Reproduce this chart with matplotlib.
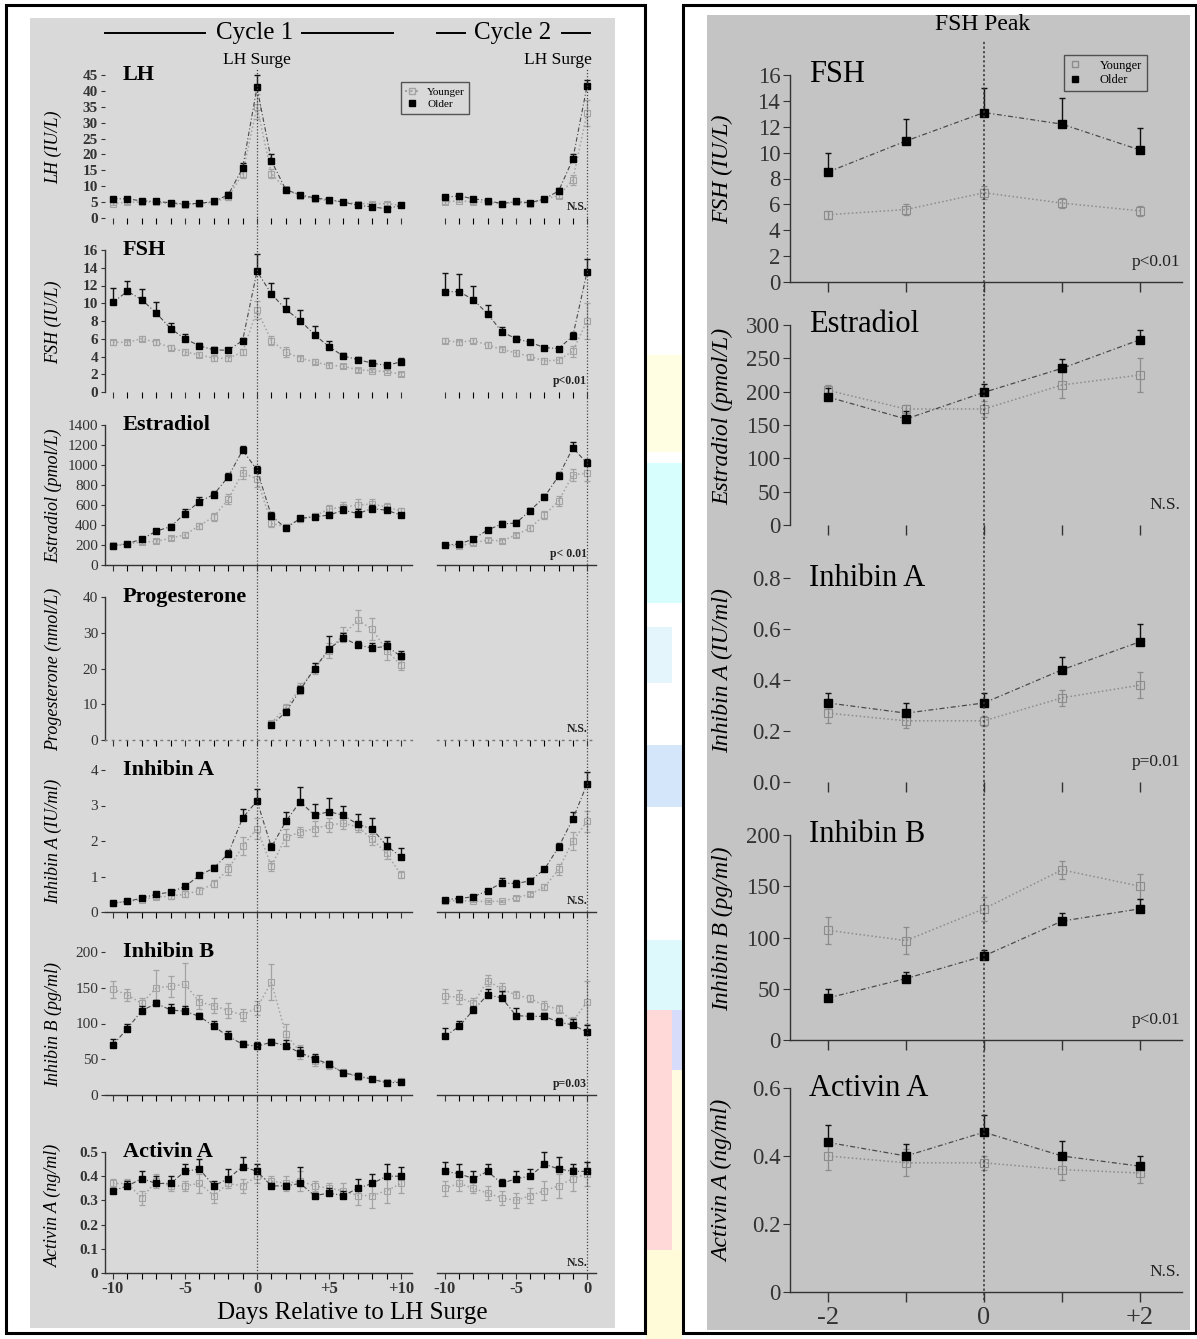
import numpy as np
import matplotlib
matplotlib.use("Agg")
import matplotlib.pyplot as plt
from matplotlib.patches import Rectangle
from matplotlib.lines import Line2D

# ---------------- data ----------------
days_c1 = [-10, -9, -8, -7, -6, -5, -4, -3, -2, -1, 0, 1, 2, 3, 4, 5, 6, 7, 8, 9, 10]
days_c2 = [-10, -9, -8, -7, -6, -5, -4, -3, -2, -1, 0]
days_prog = [1, 2, 3, 4, 5, 6, 7, 8, 9, 10]
days_peak = [-2, -1, 0, 1, 2]

lh_c1_old = [6.1, 6.0, 5.4, 5.2, 4.8, 4.4, 4.6, 5.2, 7.3, 15.7, 41.1, 18.0, 8.9, 7.3, 6.3, 5.8, 5.0, 4.0, 3.5, 2.9, 4.0]
lh_c1_old_err = [0.6, 0.6, 0.5, 0.5, 0.4, 0.4, 0.4, 0.5, 0.8, 1.5, 4.0, 2.0, 0.9, 0.7, 0.6, 0.6, 0.5, 0.5, 0.4, 0.4, 0.5]
lh_c1_young = [4.5, 5.0, 5.0, 5.0, 4.5, 4.2, 4.5, 5.0, 6.5, 14.0, 35.0, 14.0, 9.0, 7.0, 6.0, 5.5, 5.0, 4.5, 4.5, 4.5, 4.0]
lh_c1_young_err = [0.5, 0.5, 0.5, 0.5, 0.4, 0.4, 0.4, 0.4, 0.7, 1.5, 4.0, 1.5, 0.8, 0.6, 0.5, 0.5, 0.5, 0.4, 0.4, 0.4, 0.4]
lh_c2_old = [6.5, 7.0, 6.0, 5.5, 4.5, 5.2, 4.8, 6.0, 8.5, 18.5, 41.5]
lh_c2_old_err = [0.6, 0.6, 0.5, 0.5, 0.4, 0.4, 0.4, 0.5, 0.8, 1.5, 2.0]
lh_c2_young = [5.0, 5.5, 5.0, 5.0, 4.5, 5.0, 4.5, 6.0, 7.0, 12.0, 33.0]
lh_c2_young_err = [0.5, 0.5, 0.5, 0.5, 0.4, 0.4, 0.4, 0.4, 0.7, 1.5, 4.0]

fsh_c1_old = [10.1, 11.35, 10.4, 8.9, 7.15, 6.0, 5.2, 4.75, 4.7, 5.8, 13.6, 11.05, 9.3, 8.05, 6.45, 5.1, 4.05, 3.65, 3.25, 3.0, 3.4]
fsh_c1_old_err = [1.6, 1.15, 1.2, 1.2, 0.65, 0.5, 0.3, 0.3, 0.3, 0.3, 1.9, 1.25, 1.3, 1.15, 0.95, 0.6, 0.4, 0.3, 0.3, 0.3, 0.4]
fsh_c1_young = [5.6, 5.6, 6.0, 5.6, 5.0, 4.5, 4.2, 3.8, 3.8, 4.5, 9.2, 5.8, 4.5, 3.8, 3.4, 3.0, 2.9, 2.5, 2.4, 2.3, 2.0]
fsh_c1_young_err = [0.3, 0.3, 0.3, 0.3, 0.3, 0.3, 0.3, 0.3, 0.3, 0.3, 1.0, 0.5, 0.6, 0.3, 0.3, 0.3, 0.2, 0.2, 0.2, 0.2, 0.2]
fsh_c2_old = [11.3, 11.3, 10.4, 8.8, 6.8, 6.0, 5.6, 5.0, 4.9, 6.3, 13.5]
fsh_c2_old_err = [2.1, 2.0, 1.6, 1.0, 0.5, 0.3, 0.3, 0.2, 0.2, 0.5, 1.5]
fsh_c2_young = [5.8, 5.6, 5.8, 5.3, 4.8, 4.4, 4.0, 3.5, 3.6, 4.6, 8.0]
fsh_c2_young_err = [0.3, 0.3, 0.3, 0.3, 0.3, 0.3, 0.3, 0.3, 0.3, 0.6, 2.0]

e2_c1_old = [187, 213, 259, 338, 384, 515, 633, 705, 882, 1148, 951, 492, 367, 466, 482, 499, 548, 515, 564, 548, 499]
e2_c1_old_err = [15, 15, 25, 20, 25, 45, 45, 40, 40, 45, 40, 40, 20, 25, 20, 30, 40, 50, 35, 30, 25]
e2_c1_young = [200, 210, 230, 236, 269, 302, 394, 482, 656, 925, 860, 417, 380, 460, 490, 560, 580, 600, 610, 580, 540]
e2_c1_young_err = [15, 15, 20, 20, 20, 25, 30, 40, 50, 60, 80, 40, 30, 30, 30, 40, 50, 60, 50, 40, 35]
e2_c2_old = [200, 210, 260, 350, 410, 420, 545, 680, 890, 1170, 1020]
e2_c2_old_err = [10, 15, 20, 20, 35, 30, 30, 30, 40, 60, 40]
e2_c2_young = [200, 190, 220, 250, 240, 300, 370, 500, 640, 900, 920]
e2_c2_young_err = [10, 15, 20, 20, 20, 20, 30, 40, 50, 60, 80]

prog_old = [4.2, 7.8, 14.0, 20.0, 25.5, 28.5, 26.6, 25.7, 26.2, 23.4]
prog_old_err = [0.5, 0.8, 1.2, 1.5, 3.5, 1.5, 1.0, 1.5, 1.5, 1.5]
prog_young = [4.8, 9.0, 14.5, 20.0, 25.0, 29.5, 33.5, 31.0, 25.0, 21.0]
prog_young_err = [0.5, 1.0, 1.5, 1.5, 2.0, 2.0, 3.0, 3.0, 2.5, 1.5]

inha_c1_old = [0.25, 0.30, 0.39, 0.50, 0.56, 0.72, 1.03, 1.24, 1.64, 2.65, 3.13, 1.83, 2.55, 3.11, 2.72, 2.83, 2.72, 2.47, 2.34, 1.87, 1.55]
inha_c1_old_err = [0.03, 0.04, 0.05, 0.05, 0.06, 0.07, 0.08, 0.08, 0.1, 0.25, 0.34, 0.1, 0.28, 0.4, 0.33, 0.37, 0.28, 0.28, 0.3, 0.23, 0.25]
inha_c1_young = [0.25, 0.30, 0.35, 0.42, 0.45, 0.50, 0.60, 0.80, 1.20, 1.85, 2.35, 1.30, 2.10, 2.25, 2.35, 2.45, 2.50, 2.40, 2.05, 1.65, 1.05]
inha_c1_young_err = [0.03, 0.04, 0.05, 0.05, 0.08, 0.08, 0.1, 0.1, 0.15, 0.25, 0.3, 0.15, 0.25, 0.15, 0.2, 0.2, 0.15, 0.15, 0.15, 0.15, 0.1]
inha_c2_old = [0.35, 0.38, 0.43, 0.60, 0.82, 0.80, 0.88, 1.20, 1.83, 2.62, 3.60]
inha_c2_old_err = [0.03, 0.04, 0.04, 0.05, 0.13, 0.1, 0.09, 0.06, 0.12, 0.2, 0.33]
inha_c2_young = [0.30, 0.33, 0.30, 0.30, 0.30, 0.40, 0.50, 0.70, 1.20, 2.00, 2.55]
inha_c2_young_err = [0.03, 0.03, 0.03, 0.03, 0.03, 0.05, 0.05, 0.08, 0.15, 0.25, 0.3]

inhb_c1_old = [70, 93, 118, 128, 119, 117, 110, 96, 82, 71, 68, 74, 69, 59, 51, 43, 31, 27, 22, 17, 18]
inhb_c1_old_err = [8, 6, 7, 5, 8, 8, 5, 7, 7, 5, 6, 4, 8, 8, 6, 5, 4, 4, 3, 3, 3]
inhb_c1_young = [148, 140, 128, 150, 152, 155, 130, 125, 118, 112, 122, 158, 85, 60, 48, 42, 32, 25, 23, 18, 20]
inhb_c1_young_err = [12, 8, 8, 25, 15, 30, 10, 10, 10, 8, 10, 25, 15, 10, 8, 6, 5, 4, 3, 3, 4]
inhb_c2_old = [82, 96, 119, 140, 136, 111, 110, 110, 102, 98, 88]
inhb_c2_old_err = [12, 8, 6, 8, 10, 10, 5, 4, 6, 8, 10]
inhb_c2_young = [138, 137, 128, 160, 148, 140, 135, 125, 120, 103, 130]
inhb_c2_young_err = [10, 10, 8, 8, 8, 5, 5, 6, 6, 6, 30]

acta_c1_old = [0.34, 0.36, 0.39, 0.37, 0.37, 0.42, 0.43, 0.36, 0.39, 0.44, 0.42, 0.36, 0.36, 0.37, 0.32, 0.33, 0.32, 0.35, 0.37, 0.40, 0.40]
acta_c1_old_err = [0.01, 0.02, 0.03, 0.03, 0.03, 0.03, 0.04, 0.02, 0.04, 0.04, 0.03, 0.01, 0.01, 0.07, 0.01, 0.02, 0.02, 0.04, 0.04, 0.05, 0.04]
acta_c1_young = [0.37, 0.37, 0.31, 0.38, 0.36, 0.36, 0.37, 0.32, 0.37, 0.36, 0.40, 0.38, 0.37, 0.38, 0.36, 0.35, 0.34, 0.32, 0.32, 0.34, 0.37]
acta_c1_young_err = [0.02, 0.02, 0.03, 0.03, 0.02, 0.02, 0.04, 0.03, 0.02, 0.03, 0.03, 0.02, 0.03, 0.04, 0.02, 0.02, 0.03, 0.04, 0.05, 0.05, 0.04]
acta_c2_old = [0.42, 0.41, 0.39, 0.42, 0.37, 0.39, 0.40, 0.45, 0.43, 0.42, 0.42]
acta_c2_old_err = [0.04, 0.04, 0.03, 0.03, 0.02, 0.03, 0.03, 0.05, 0.05, 0.03, 0.04]
acta_c2_young = [0.35, 0.37, 0.35, 0.33, 0.31, 0.30, 0.32, 0.34, 0.36, 0.39, 0.41]
acta_c2_young_err = [0.03, 0.03, 0.02, 0.03, 0.03, 0.03, 0.03, 0.04, 0.05, 0.05, 0.05]

pk_fsh_old = [8.5, 10.9, 13.1, 12.2, 10.2]
pk_fsh_old_err = [1.5, 1.7, 1.9, 2.0, 1.7]
pk_fsh_young = [5.2, 5.6, 6.9, 6.1, 5.5]
pk_fsh_young_err = [0.3, 0.4, 0.5, 0.4, 0.4]
pk_e2_old = [192, 159, 199, 235, 278]
pk_e2_old_err = [14, 12, 12, 14, 15]
pk_e2_young = [202, 174, 174, 210, 225]
pk_e2_young_err = [8, 6, 12, 20, 25]
pk_inha_old = [0.31, 0.27, 0.31, 0.44, 0.55]
pk_inha_old_err = [0.04, 0.04, 0.04, 0.05, 0.07]
pk_inha_young = [0.27, 0.24, 0.24, 0.33, 0.38]
pk_inha_young_err = [0.04, 0.03, 0.02, 0.03, 0.05]
pk_inhb_old = [41, 60, 82, 116, 128]
pk_inhb_old_err = [9, 6, 6, 8, 10]
pk_inhb_young = [107, 97, 128, 166, 150]
pk_inhb_young_err = [13, 13, 12, 9, 12]
pk_acta_old = [0.44, 0.40, 0.47, 0.40, 0.37]
pk_acta_old_err = [0.05, 0.035, 0.05, 0.045, 0.03]
pk_acta_young = [0.40, 0.38, 0.38, 0.36, 0.35]
pk_acta_young_err = [0.04, 0.04, 0.02, 0.03, 0.03]

# ---------------- figure ----------------
W, H = 1197, 1339
plt.rcParams['font.family'] = ['Liberation Serif', 'DejaVu Serif']
fig = plt.figure(figsize=(W / 100, H / 100), dpi=100)
fig.patch.set_facecolor('white')

BG_L = '#d9d9d9'
BG_R = '#c4c4c4'
YC_L = '#a3a3a3'
YC_R = '#8c8c8c'
AXC = '#333333'


def fx(x):
    return x / W


def fy(y):
    return 1 - y / H


def rect(x0, y0, x1, y1, **kw):
    fig.add_artist(Rectangle((fx(x0), fy(y1)), (x1 - x0) / W, (y1 - y0) / H,
                             transform=fig.transFigure, **kw))


def hline(x0, x1, y, **kw):
    fig.add_artist(Line2D([fx(x0), fx(x1)], [fy(y), fy(y)], transform=fig.transFigure, **kw))


def txt(x, y, s, **kw):
    fig.text(fx(x), fy(y), s, **kw)


# background panels and frames
rect(30, 18, 615, 1328, facecolor=BG_L, edgecolor='none', zorder=0)
rect(707, 15, 1190, 1330, facecolor=BG_R, edgecolor='none', zorder=0)
# faint coloured strip between the panels (scan artefact)
rect(646, 355, 682, 452, facecolor='#fffde2', edgecolor='none', zorder=0)
rect(646, 463, 682, 603, facecolor='#d8fdfd', edgecolor='none', zorder=0)
rect(646, 627, 672, 683, facecolor='#e4f6fb', edgecolor='none', zorder=0)
rect(646, 745, 682, 807, facecolor='#d4e6fa', edgecolor='none', zorder=0)
rect(646, 940, 682, 1012, facecolor='#def9fc', edgecolor='none', zorder=0)
rect(656, 1010, 682, 1070, facecolor='#d6dcfa', edgecolor='none', zorder=0)
rect(646, 1010, 672, 1250, facecolor='#ffd8d8', edgecolor='none', zorder=0)
rect(672, 1070, 682, 1250, facecolor='#fffbe0', edgecolor='none', zorder=0)
rect(646, 1250, 682, 1339, facecolor='#fffbd8', edgecolor='none', zorder=0)
rect(6, 5, 645, 1333, facecolor='none', edgecolor='black', lw=2.2, zorder=5)
rect(683, 5, 1196, 1333, facecolor='none', edgecolor='black', lw=2.2, zorder=5)


def add_ax(xpx, ypx, xcal, ycal):
    d0, p0, d1, p1 = xcal
    v0, q0, v1, q1 = ycal

    def dx(p):
        return d0 + (p - p0) * (d1 - d0) / (p1 - p0)

    def vy(q):
        return v0 + (q - q0) * (v1 - v0) / (q1 - q0)

    ax = fig.add_axes([fx(xpx[0]), fy(ypx[1]), (xpx[1] - xpx[0]) / W, (ypx[1] - ypx[0]) / H])
    ax.set_xlim(dx(xpx[0]), dx(xpx[1]))
    ax.set_ylim(vy(ypx[1]), vy(ypx[0]))
    ax.patch.set_alpha(0)
    for s in ['top', 'right']:
        ax.spines[s].set_visible(False)
    for s in ['left', 'bottom']:
        ax.spines[s].set_color(AXC)
        ax.spines[s].set_linewidth(1.0)
    ax.tick_params(colors=AXC, direction='out')
    return ax


def draw(ax, x, old, old_err, young, young_err, ms, yc, lw_old=0.8):
    ax.errorbar(x, young, yerr=young_err, fmt='none', ecolor=yc, elinewidth=0.9,
                capsize=2, capthick=0.9, zorder=2)
    ax.plot(x, young, ls=(0, (1, 1.6)), color=yc, lw=1.1, marker='s', ms=ms - 0.5,
            mfc='none', mec=yc, mew=0.8, zorder=3)
    ax.errorbar(x, old, yerr=[np.zeros(len(old)), old_err], fmt='none', ecolor='#111111',
                elinewidth=1.0, capsize=2, capthick=1.0, zorder=4)
    ax.plot(x, old, ls=(0, (4, 2, 1, 2)), color='#4a4a4a', lw=lw_old, marker='s', ms=ms,
            mfc='black', mec='black', zorder=5)


# ---------------- left panel ----------------
XC1 = (-10, 113, 10, 401)
XC2 = (-10, 445, 0, 587)
X1PX = (105, 412)
X2PX = (437, 596)

rows = [
    # name, ylabel, top value, top px, zero px, ticks, c1 data, c2 data, note, yspine, xspine, bold ticks
    ('LH', 'LH (IU/L)', 45, 75, 218, [0, 5, 10, 15, 20, 25, 30, 35, 40, 45],
     (lh_c1_old, lh_c1_old_err, lh_c1_young, lh_c1_young_err),
     (lh_c2_old, lh_c2_old_err, lh_c2_young, lh_c2_young_err), 'N.S.', False, 'none', True),
    ('FSH', 'FSH (IU/L)', 16, 250, 392, [0, 2, 4, 6, 8, 10, 12, 14, 16],
     (fsh_c1_old, fsh_c1_old_err, fsh_c1_young, fsh_c1_young_err),
     (fsh_c2_old, fsh_c2_old_err, fsh_c2_young, fsh_c2_young_err), 'p<0.01', True, 'none', True),
    ('Estradiol', 'Estradiol (pmol/L)', 1400, 425, 565, [0, 200, 400, 600, 800, 1000, 1200, 1400],
     (e2_c1_old, e2_c1_old_err, e2_c1_young, e2_c1_young_err),
     (e2_c2_old, e2_c2_old_err, e2_c2_young, e2_c2_young_err), 'p< 0.01', True, 'solid', False),
    ('Progesterone', 'Progesterone (nmol/L)', 40, 597, 740, [0, 10, 20, 30, 40],
     (prog_old, prog_old_err, prog_young, prog_young_err), None, 'N.S.', True, 'dotted', False),
    ('Inhibin A', 'Inhibin A (IU/ml)', 4, 770, 912, [0, 1, 2, 3, 4],
     (inha_c1_old, inha_c1_old_err, inha_c1_young, inha_c1_young_err),
     (inha_c2_old, inha_c2_old_err, inha_c2_young, inha_c2_young_err), 'N.S.', False, 'solid', False),
    ('Inhibin B', 'Inhibin B (pg/ml)', 200, 952, 1095, [0, 50, 100, 150, 200],
     (inhb_c1_old, inhb_c1_old_err, inhb_c1_young, inhb_c1_young_err),
     (inhb_c2_old, inhb_c2_old_err, inhb_c2_young, inhb_c2_young_err), 'p=0.03', False, 'solid', False),
    ('Activin A', 'Activin A (ng/ml)', 0.5, 1152, 1273, [0, 0.1, 0.2, 0.3, 0.4, 0.5],
     (acta_c1_old, acta_c1_old_err, acta_c1_young, acta_c1_young_err),
     (acta_c2_old, acta_c2_old_err, acta_c2_young, acta_c2_young_err), 'N.S.', True, 'solid', True),
]

for i, (name, ylab, topv, toppx, zeropx, ticks, d1, d2, note, yspine, xspine, boldt) in enumerate(rows):
    last = (i == len(rows) - 1)
    ycal = (0, zeropx, topv, toppx)
    ax1 = add_ax(X1PX, (toppx - 14, zeropx), XC1, ycal)
    ax2 = add_ax(X2PX, (toppx - 14, zeropx), XC2, ycal)
    xd1 = days_prog if name == 'Progesterone' else days_c1
    draw(ax1, xd1, *d1, ms=4.5, yc=YC_L)
    if d2 is not None:
        draw(ax2, days_c2, *d2, ms=4.5, yc=YC_L)
    ax1.set_yticks(ticks)
    ax1.set_yticklabels([('%g' % t) for t in ticks], fontsize=11,
                        fontweight='bold' if boldt else 'normal')
    ax1.tick_params(axis='y', length=3, pad=2)
    ax1.spines['left'].set_visible(yspine)
    ax1.spines['left'].set_bounds(0, topv)
    ax2.spines['left'].set_visible(False)
    ax2.set_yticks([])
    for ax, majors in ((ax1, [-10, -5, 0, 5, 10]), (ax2, [-10, -5, 0])):
        ax.set_xticks(majors)
        ax.set_xticks(days_c1 if ax is ax1 else days_c2, minor=True)
        ax.tick_params(axis='x', which='both', length=4, width=0.8)
        if xspine == 'none':
            ax.spines['bottom'].set_visible(False)
        elif xspine == 'dotted':
            ax.spines['bottom'].set_linestyle((0, (1, 4)))
            ax.spines['bottom'].set_color('#777777')
        if last:
            ax.set_xticklabels(['-10', '-5', '0', '+5', '+10'] if ax is ax1 else ['-10', '-5', '0'],
                               fontsize=12, fontweight='bold')
            ax.tick_params(axis='x', pad=2)
        else:
            ax.set_xticklabels([])
    ax1.text(-9.3, topv * 1.0, name, fontsize=16, fontweight='bold', va='center', ha='left')
    ax2.text(0, 0.035 * topv, note, fontsize=8.5, fontweight='bold', ha='right', va='bottom',
             color='#222222')
    ax1.set_ylabel(ylab, fontsize=13, fontstyle='italic', labelpad=4)
    ax1.yaxis.set_label_coords(-0.14, 0.45 if i != 6 else 0.5)

# legend in LH panel
lh_ax = fig.axes[0]
hy = Line2D([], [], ls=(0, (1, 1.6)), color=YC_L, marker='s', ms=4, mfc='none', mec=YC_L)
ho = Line2D([], [], ls='none', color='black', marker='s', ms=4, mfc='black', mec='black')
lg = lh_ax.legend([hy, ho], ['Younger', 'Older'], loc='center',
                  bbox_to_anchor=(fx(393), fy(114), 84 / W, 32 / H),
                  bbox_transform=fig.transFigure, fontsize=8, frameon=True, fancybox=False,
                  handlelength=1.2, borderpad=0.4, labelspacing=0.25, handletextpad=0.8)
lg.get_frame().set_edgecolor('#333333')
lg.get_frame().set_facecolor(BG_L)
lg.get_frame().set_linewidth(1.0)

# surge lines (overlay axes with the same day calibration)
ov1 = add_ax(X1PX, (68, 1280), XC1, (0, 1280, 1, 68))
ov1.axvline(0, color='#444444', ls=(0, (1, 1.5)), lw=0.9)
ov1.axis('off')
ov2 = add_ax(X2PX, (68, 1280), XC2, (0, 1280, 1, 68))
ov2.axvline(0, color='#444444', ls=(0, (1, 1.5)), lw=0.9)
ov2.axis('off')

# headings
txt(255, 33, 'Cycle 1', fontsize=18, ha='center', va='center')
hline(105, 205, 33, color='black', lw=1.4)
hline(302, 393, 33, color='black', lw=1.4)
txt(513, 33, 'Cycle 2', fontsize=18, ha='center', va='center')
hline(437, 465, 33, color='black', lw=1.4)
hline(562, 590, 33, color='black', lw=1.4)
txt(257, 60, 'LH Surge', fontsize=12.5, ha='center', va='center')
txt(592, 60, 'LH Surge', fontsize=12.5, ha='right', va='center')
txt(352, 1313, 'Days Relative to LH Surge', fontsize=18, ha='center', va='center')

# ---------------- right panel ----------------
XCR = (-2, 828, 2, 1140)
XRPX = (790, 1182)
rrows = [
    ('FSH', 'FSH (IU/L)', 16, 75, 282, [0, 2, 4, 6, 8, 10, 12, 14, 16], '%g',
     (pk_fsh_old, pk_fsh_old_err, pk_fsh_young, pk_fsh_young_err), 'p<0.01', True, True),
    ('Estradiol', 'Estradiol (pmol/L)', 300, 325, 525, [0, 50, 100, 150, 200, 250, 300], '%g',
     (pk_e2_old, pk_e2_old_err, pk_e2_young, pk_e2_young_err), 'N.S.', True, False),
    ('Inhibin A', 'Inhibin A (IU/ml)', 0.8, 578, 782, [0.0, 0.2, 0.4, 0.6, 0.8], '%.1f',
     (pk_inha_old, pk_inha_old_err, pk_inha_young, pk_inha_young_err), 'p=0.01', False, False),
    ('Inhibin B', 'Inhibin B (pg/ml)', 200, 835, 1040, [0, 50, 100, 150, 200], '%g',
     (pk_inhb_old, pk_inhb_old_err, pk_inhb_young, pk_inhb_young_err), 'p<0.01', True, True),
    ('Activin A', 'Activin A (ng/ml)', 0.6, 1088, 1292, [0, 0.2, 0.4, 0.6], '%g',
     (pk_acta_old, pk_acta_old_err, pk_acta_young, pk_acta_young_err), 'N.S.', True, True),
]
for i, (name, ylab, topv, toppx, zeropx, ticks, fmt, d, note, yspine, xspine) in enumerate(rrows):
    last = (i == len(rrows) - 1)
    ax = add_ax(XRPX, (toppx - 18, zeropx), XCR, (0, zeropx, topv, toppx))
    draw(ax, days_peak, *d, ms=6, yc=YC_R, lw_old=0.9)
    ax.set_yticks(ticks)
    ax.set_yticklabels([fmt % t for t in ticks], fontsize=16.5)
    ax.tick_params(axis='y', length=5, pad=2)
    ax.spines['left'].set_visible(yspine)
    ax.spines['left'].set_bounds(0, topv)
    ax.spines['bottom'].set_visible(xspine)
    ax.set_xticks(days_peak)
    ax.tick_params(axis='x', length=7, width=1.0)
    if last:
        ax.set_xticklabels(['-2', '', '0', '', '+2'], fontsize=19)
    else:
        ax.set_xticklabels([])
    ax.text(-2.24, topv, name, fontsize=22, ha='left', va='center')
    ax.text(2.52, 0.06 * topv, note, fontsize=12.5, ha='right', va='bottom', color='#222222')
    ax.set_ylabel(ylab, fontsize=17, fontstyle='italic')
    ax.yaxis.set_label_coords(-0.145, 0.5)
    if i == 0:
        hy2 = Line2D([], [], ls='none', color=YC_R, marker='s', ms=4, mfc='none', mec=YC_R)
        ho2 = Line2D([], [], ls='none', color='black', marker='s', ms=4, mfc='black', mec='black')
        lg2 = ax.legend([hy2, ho2], ['Younger', 'Older'], loc='center',
                        bbox_to_anchor=(fx(1058), fy(89), 95 / W, 32 / H),
                        bbox_transform=fig.transFigure, fontsize=9, frameon=True, fancybox=False,
                        handlelength=1.0, borderpad=0.35, labelspacing=0.2, handletextpad=1.5)
        lg2.get_frame().set_edgecolor('#333333')
        lg2.get_frame().set_facecolor(BG_R)
        lg2.get_frame().set_linewidth(1.0)

ovr = add_ax(XRPX, (40, 1300), XCR, (0, 1300, 1, 40))
ovr.axvline(0, color='#333333', ls=(0, (1.5, 1.5)), lw=1.1)
ovr.axis('off')
txt(983, 25, 'FSH Peak', fontsize=17, ha='center', va='center')

fig.savefig('out.png', dpi=100, facecolor='white')
